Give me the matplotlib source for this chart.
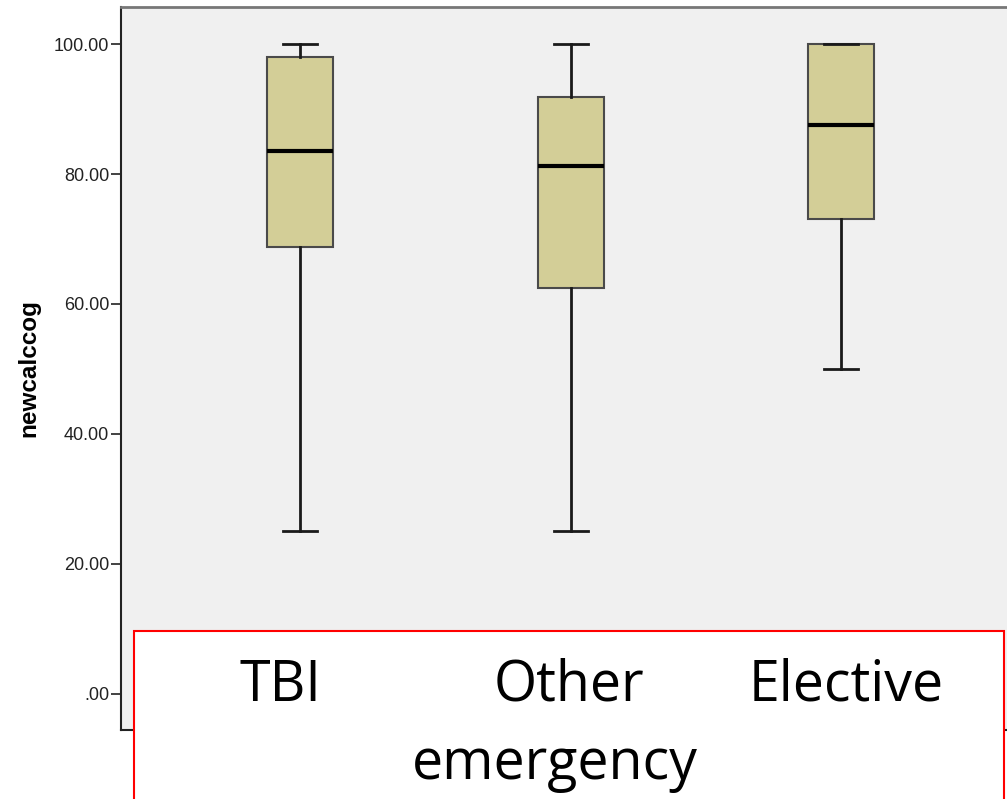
import matplotlib
matplotlib.use("Agg")
import matplotlib.pyplot as plt
from matplotlib.patches import Rectangle

# group labels and five-number summaries
groups = ["TBI", "Other\nemergency", "Elective"]
whis_lo = [25.0, 25.0, 50.0]
q1 = [68.8, 62.5, 73.0]
median = [83.5, 81.3, 87.6]
q3 = [98.0, 91.8, 100.0]
whis_hi = [100.0, 100.0, 100.0]

yticks = [0, 20, 40, 60, 80, 100]
ytick_labels = [".00", "20.00", "40.00", "60.00", "80.00", "100.00"]

stats = []
for i in range(len(groups)):
    stats.append({"med": median[i], "q1": q1[i], "q3": q3[i],
                  "whislo": whis_lo[i], "whishi": whis_hi[i],
                  "fliers": [], "label": groups[i]})

fig = plt.figure(figsize=(10.07, 7.99), dpi=100)
ax = fig.add_axes([0.1202, 0.0864, 0.95, 0.9048])
ax.set_facecolor("#F0F0F0")

ax.bxp(stats, positions=range(len(groups)), widths=0.244, patch_artist=True,
       showfliers=False, capwidths=0.126,
       boxprops=dict(facecolor="#D3CE97", edgecolor="#4a4a4a", linewidth=1.5),
       medianprops=dict(color="black", linewidth=3),
       whiskerprops=dict(color="#1a1a1a", linewidth=2),
       capprops=dict(color="#1a1a1a", linewidth=2))

ax.set_xlim(-0.662, 2.875)
ax.set_ylim(-5.54, 105.69)
ax.set_xticks([])
ax.set_yticks(yticks)
ax.set_yticklabels(ytick_labels, family="Liberation Sans", fontsize=13, color="#222222")
ax.tick_params(axis="y", length=7.5, width=1.2, color="#222222", pad=1)
ax.set_ylabel("newcalccog", family="Liberation Sans", fontsize=17.5, fontweight="bold", labelpad=10)

for side in ["left", "bottom"]:
    ax.spines[side].set_color("#222222")
    ax.spines[side].set_linewidth(1.5)
ax.spines["top"].set_color("#777777")
ax.spines["top"].set_linewidth(2)
ax.spines["right"].set_visible(False)

# white label panel with red border laid over the bottom of the chart
fig.patches.append(Rectangle((0.1331, -0.05), 0.8640, 0.2603, transform=fig.transFigure,
                             facecolor="white", edgecolor="red", linewidth=1.5, zorder=5))

# each label line placed separately (x centre per line, baselines of two rows)
line_x = [[0.278], [0.565, 0.551], [0.840]]
row_y = [0.1227, 0.0250]
for xs, name in zip(line_x, groups):
    for lx, ly, part in zip(xs, row_y, name.split("\n")):
        fig.text(lx, ly, part, ha="center", va="baseline", fontsize=40,
                 family="Open Sans", zorder=6)

plt.savefig("out.png", dpi=100)
